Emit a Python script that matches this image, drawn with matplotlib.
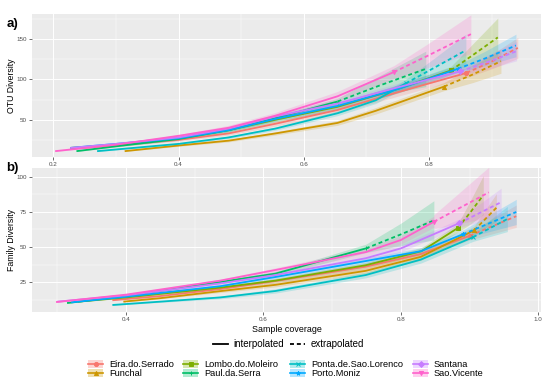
import numpy as np
import matplotlib
matplotlib.use("Agg")
import matplotlib.pyplot as plt
from matplotlib.patches import Rectangle
from matplotlib.lines import Line2D

plt.rcParams['font.family'] = ['Liberation Sans', 'DejaVu Sans']

sites = ["Eira.do.Serrado", "Funchal", "Lombo.do.Moleiro", "Paul.da.Serra",
         "Ponta.de.Sao.Lorenco", "Porto.Moniz", "Santana", "Sao.Vicente"]
colors = ["#F8766D", "#CD9600", "#7CAE00", "#00BE67",
          "#00BFC4", "#00A9FF", "#C77CFF", "#FF61CC"]
markers = ["o", "^", "s", "+", "x", "*", "D", "v"]

# ---- panel a: OTU diversity vs sample coverage ----
otu_int_x = [[0.227, 0.30, 0.40, 0.48, 0.555, 0.654, 0.75, 0.86],
             [0.314, 0.40, 0.48, 0.555, 0.654, 0.715, 0.824],
             [0.227, 0.30, 0.40, 0.48, 0.555, 0.654, 0.75, 0.835],
             [0.237, 0.30, 0.40, 0.48, 0.555, 0.654],
             [0.27, 0.40, 0.48, 0.555, 0.654, 0.715, 0.763],
             [0.227, 0.30, 0.40, 0.48, 0.555, 0.654, 0.75, 0.846],
             [0.227, 0.30, 0.40, 0.48, 0.555, 0.654, 0.75, 0.85],
             [0.203, 0.30, 0.40, 0.48, 0.555, 0.654, 0.744]]
otu_int_y = [[14, 18, 25, 33, 45, 62, 84, 108],
             [11, 18, 24, 33, 46, 61, 91],
             [15, 19, 27, 37, 50, 66, 88, 111],
             [11, 17, 26, 37, 52, 72.5],
             [11, 20, 28, 39, 58, 74, 95],
             [15, 20, 27, 37, 51, 67, 88, 113],
             [15, 20, 28, 39, 54, 70, 90, 110],
             [11, 19, 30, 40, 55, 79, 109]]
otu_int_se = [[0.5, 1, 1.5, 2, 3, 4, 5, 6],
              [0.5, 1, 1.5, 2, 3, 4, 5],
              [0.5, 1, 1.5, 2, 3, 4, 5, 5],
              [0.5, 1, 1.5, 2, 3, 4],
              [0.5, 1, 1.5, 2, 3, 4, 5],
              [0.5, 1, 1.5, 2, 3, 4, 5, 5],
              [0.5, 1, 1.5, 2, 3, 4, 5, 5],
              [0.5, 1, 1.5, 3, 4, 6, 8]]
otu_ext_x = [[0.86, 0.90, 0.942], [0.824, 0.87, 0.915], [0.835, 0.87, 0.910],
             [0.654, 0.72, 0.795], [0.763, 0.81, 0.859], [0.846, 0.89, 0.939],
             [0.85, 0.90, 0.94], [0.744, 0.80, 0.867]]
otu_ext_y = [[108, 122, 139], [91, 106, 122.5], [111, 130, 152],
             [72.5, 92, 113], [95, 115, 136], [113, 126, 142],
             [110, 123, 135], [109, 130, 156]]
otu_ext_se = [[6, 9, 13], [5, 10, 15], [5, 14, 24], [4, 12, 22],
              [5, 12, 20], [5, 9, 14], [5, 9, 12], [8, 15, 24]]

# ---- panel b: Family diversity vs sample coverage ----
fam_int_x = [[0.38, 0.45, 0.537, 0.6175, 0.749, 0.829, 0.90],
             [0.396, 0.45, 0.537, 0.6175, 0.749, 0.829, 0.907],
             [0.33, 0.40, 0.537, 0.6175, 0.749, 0.83, 0.883],
             [0.314, 0.40, 0.537, 0.6175, 0.749],
             [0.38, 0.45, 0.537, 0.6175, 0.749, 0.829, 0.905],
             [0.32, 0.40, 0.537, 0.6175, 0.749, 0.829, 0.89],
             [0.30, 0.40, 0.537, 0.6175, 0.749, 0.80, 0.885],
             [0.298, 0.40, 0.537, 0.6175, 0.749, 0.80, 0.848]]
fam_int_y = [[12, 15, 20, 25.7, 36, 45, 58],
             [11, 13.5, 18.5, 23, 33, 43, 62],
             [11, 14, 21, 26, 37, 47, 63.6],
             [10, 15, 25, 31, 49],
             [8.6, 11, 14, 18.6, 30, 41, 57],
             [10.5, 14.5, 22, 28.6, 40, 47, 59],
             [11, 15.5, 24, 30, 42, 49, 67],
             [10.7, 16, 26, 33.6, 46.4, 55, 68]]
fam_int_se = [[0.3, 0.5, 1, 1.5, 2, 2.5, 3],
              [0.3, 0.5, 1, 1.5, 2, 2.5, 3],
              [0.3, 0.5, 1, 1.5, 2, 2.5, 3],
              [0.3, 0.5, 1, 1.5, 3],
              [0.3, 0.5, 1, 1.5, 2, 2.5, 3],
              [0.3, 0.5, 1, 1.5, 2, 2.5, 3],
              [0.3, 0.5, 1, 1.5, 2, 2.5, 3],
              [0.3, 0.5, 1, 1.5, 2.5, 3, 4]]
fam_ext_x = [[0.90, 0.968], [0.907, 0.939], [0.883, 0.90, 0.92], [0.749, 0.80, 0.848],
             [0.905, 0.955], [0.89, 0.968], [0.885, 0.946], [0.848, 0.928]]
fam_ext_y = [[58, 72], [62, 78], [63.6, 74, 87], [49, 59, 69],
             [57, 70], [59, 75], [67, 82], [68, 89]]
fam_ext_se = [[3, 8], [3, 10], [3, 8, 14], [3, 8, 14],
              [3, 9], [3, 9], [3, 10], [5, 18]]

fig = plt.figure(figsize=(5.5, 3.86), dpi=100)
ax_a = fig.add_axes([32 / 550, 1 - 157 / 386, 509 / 550, 143 / 386])
ax_b = fig.add_axes([32 / 550, 1 - 312 / 386, 509 / 550, 144 / 386])


def draw_panel(ax, ix, iy, ise, ex, ey, ese):
    for k in range(len(sites)):
        c = colors[k]
        x1, y1, s1 = np.array(ix[k]), np.array(iy[k]), np.array(ise[k])
        x2, y2, s2 = np.array(ex[k]), np.array(ey[k]), np.array(ese[k])
        ax.fill_between(x1, y1 - s1, y1 + s1, color=c, alpha=0.2, lw=0)
        ax.fill_between(x2, y2 - s2, y2 + s2, color=c, alpha=0.2, lw=0)
        ax.plot(x1, y1, color=c, lw=1.3, solid_capstyle='butt')
        ax.plot(x2, y2, color=c, lw=1.3, dashes=(2.2, 1.6))
        ax.plot(x1[-1], y1[-1], marker=markers[k], color=c, ms=3, mew=0.7)


def style_panel(ax, xmaj, xmin, ymaj, ymin, xlim, ylim):
    ax.set_facecolor("#EBEBEB")
    ax.set_xlim(*xlim)
    ax.set_ylim(*ylim)
    ax.set_xticks(xmaj)
    ax.set_xticks(xmin, minor=True)
    ax.set_yticks(ymaj)
    ax.set_yticks(ymin, minor=True)
    ax.grid(which='major', color='white', lw=0.7)
    ax.grid(which='minor', color='white', lw=0.35)
    ax.set_axisbelow(True)
    for sp in ax.spines.values():
        sp.set_visible(False)
    ax.tick_params(which='major', length=2, width=0.5, color='#333333',
                   labelsize=4.5, labelcolor='#4D4D4D', pad=1.5)
    ax.tick_params(which='minor', length=0)


draw_panel(ax_a, otu_int_x, otu_int_y, otu_int_se, otu_ext_x, otu_ext_y, otu_ext_se)
style_panel(ax_a, [0.2, 0.4, 0.6, 0.8], [0.3, 0.5, 0.7, 0.9],
            [50, 100, 150], [25, 75, 125, 175], (0.166, 0.979), (3.75, 181))
ax_a.set_xticklabels(["0.2", "0.4", "0.6", "0.8"])
ax_a.set_ylabel("OTU Diversity", fontsize=6.3)
ax_a.yaxis.set_label_coords(-16 / 509, 0.5)

draw_panel(ax_b, fam_int_x, fam_int_y, fam_int_se, fam_ext_x, fam_ext_y, fam_ext_se)
style_panel(ax_b, [0.4, 0.6, 0.8, 1.0], [0.3, 0.5, 0.7, 0.9],
            [25, 50, 75, 100], [12.5, 37.5, 62.5, 87.5], (0.263, 1.004), (3.6, 106.4))
ax_b.set_xticklabels(["0.4", "0.6", "0.8", "1.0"])
ax_b.set_ylabel("Family Diversity", fontsize=6.3)
ax_b.yaxis.set_label_coords(-16 / 509, 0.5)
ax_b.set_xlabel("Sample coverage", fontsize=6.4, labelpad=2)

fig.text(12 / 550, 1 - 24 / 386, "a)", fontsize=9.5, fontweight='bold', ha='center', va='center')
fig.text(12 / 550, 1 - 168 / 386, "b)", fontsize=9.5, fontweight='bold', ha='center', va='center')

# legends drawn in a figure-wide overlay (pixel coordinates)
lg = fig.add_axes([0, 0, 1, 1], facecolor='none')
lg.set_xlim(0, 550)
lg.set_ylim(386, 0)
lg.axis('off')

lg.add_line(Line2D([213, 228], [344, 344], color='black', lw=1.3))
lg.text(233, 344, "interpolated", fontsize=7, va='center')
lg.add_line(Line2D([290, 305], [344, 344], color='black', lw=1.3, dashes=(2.2, 1.6)))
lg.text(311, 344, "extrapolated", fontsize=7, va='center')

col_x = [88, 183, 290, 413]
row_y = [364, 373]
for k, name in enumerate(sites):
    cx = col_x[k // 2]
    cy = row_y[k % 2]
    lg.add_patch(Rectangle((cx, cy - 4), 15, 8, facecolor=colors[k], alpha=0.3,
                           edgecolor='none'))
    lg.add_line(Line2D([cx, cx + 15], [cy, cy], color=colors[k], lw=1.2))
    lg.plot(cx + 7.5, cy, marker=markers[k], color=colors[k], ms=3, mew=0.7)
    lg.text(cx + 21, cy + 0.5, name, fontsize=6.7, va='center')

fig.savefig("out.png", dpi=100)
